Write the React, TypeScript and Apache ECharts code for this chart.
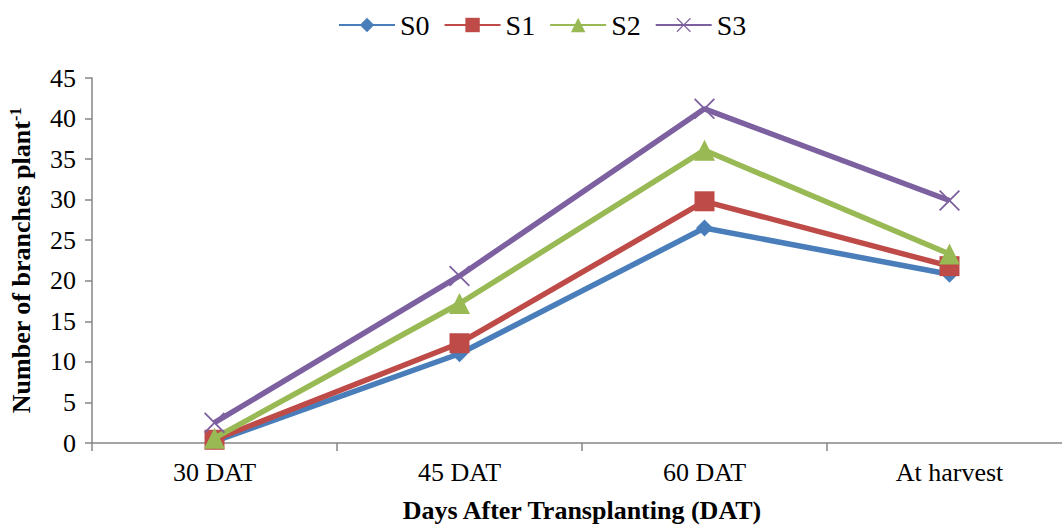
import React, { useEffect, useRef } from "react";
import * as echarts from "echarts";

const categories = ["30 DAT", "45 DAT", "60 DAT", "At harvest"];
const seriesNames = ["S0", "S1", "S2", "S3"];
const s0Values = [0.2, 11.0, 26.5, 20.8];
const s1Values = [0.4, 12.3, 29.8, 21.8];
const s2Values = [0.6, 17.2, 36.1, 23.3];
const s3Values = [2.5, 20.6, 41.2, 29.9];
const yTicks = [0, 5, 10, 15, 20, 25, 30, 35, 40, 45];

const colors = ["#4a7ebb", "#be4b48", "#98b954", "#7d60a0"];
const crossPath =
  "path://M0,1.2L1.2,0L10,8.8L18.8,0L20,1.2L11.2,10L20,18.8L18.8,20L10,11.2L1.2,20L0,18.8L8.8,10Z";
const symbols = ["diamond", "rect", "triangle", crossPath];
const symbolSizes = [17, 20, 21, 21];

const serif = "Liberation Serif";

export default function App() {
  const ref = useRef<HTMLDivElement>(null);

  useEffect(() => {
    if (!ref.current) return;
    const chart = echarts.init(ref.current, null, { renderer: "svg" });
    const allValues = [s0Values, s1Values, s2Values, s3Values];
    chart.setOption({
      animation: false,
      backgroundColor: "#ffffff",
      legend: {
        top: 6,
        left: 333,
        itemWidth: 56,
        itemHeight: 18,
        itemGap: 14,
        textStyle: { fontFamily: serif, fontSize: 28, color: "#000" },
        data: seriesNames,
      },
      grid: {
        left: 92,
        top: 78,
        width: 980,
        height: 365,
        containLabel: false,
        outerBoundsMode: "none",
      },
      xAxis: {
        type: "category",
        data: categories,
        boundaryGap: true,
        axisLine: { lineStyle: { color: "#868686", width: 1.5 } },
        axisTick: { show: true, length: 8, lineStyle: { color: "#868686", width: 1.5 } },
        axisLabel: { fontFamily: serif, fontSize: 26, color: "#000", margin: 16 },
        name: "Days After Transplanting (DAT)",
        nameLocation: "middle",
        nameGap: 54,
        nameTextStyle: {
          fontFamily: serif,
          fontSize: 26,
          fontWeight: "bold",
          color: "#000",
        },
      },
      yAxis: {
        type: "value",
        min: yTicks[0],
        max: yTicks[yTicks.length - 1],
        interval: 5,
        splitLine: { show: false },
        axisLine: { show: true, lineStyle: { color: "#868686", width: 1.5 } },
        axisTick: { show: true, length: 7, lineStyle: { color: "#868686", width: 1.5 } },
        axisLabel: { fontFamily: serif, fontSize: 26, color: "#000", margin: 16 },
        name: "{a|Number of branches plant}{s|-1}",
        nameLocation: "middle",
        nameGap: 57,
        nameRotate: 90,
        nameTextStyle: {
          rich: {
            a: { fontFamily: serif, fontSize: 26, fontWeight: "bold", color: "#000" },
            s: {
              fontFamily: serif,
              fontSize: 16,
              fontWeight: "bold",
              color: "#000",
              verticalAlign: "top",
              padding: [0, 0, 12, 0],
            },
          },
        },
      },
      series: seriesNames.map((name, i) => ({
        name,
        type: "line",
        data: allValues[i],
        symbol: symbols[i],
        symbolSize: symbolSizes[i],
        showAllSymbol: true,
        lineStyle: { color: colors[i], width: 5.5 },
        itemStyle: { color: colors[i] },
        z: 2 + i,
      })),
    });
    return () => chart.dispose();
  }, []);

  return (
    <div
      ref={ref}
      style={{ position: "fixed", left: 0, top: 0, width: 1062, height: 526 }}
    />
  );
}
